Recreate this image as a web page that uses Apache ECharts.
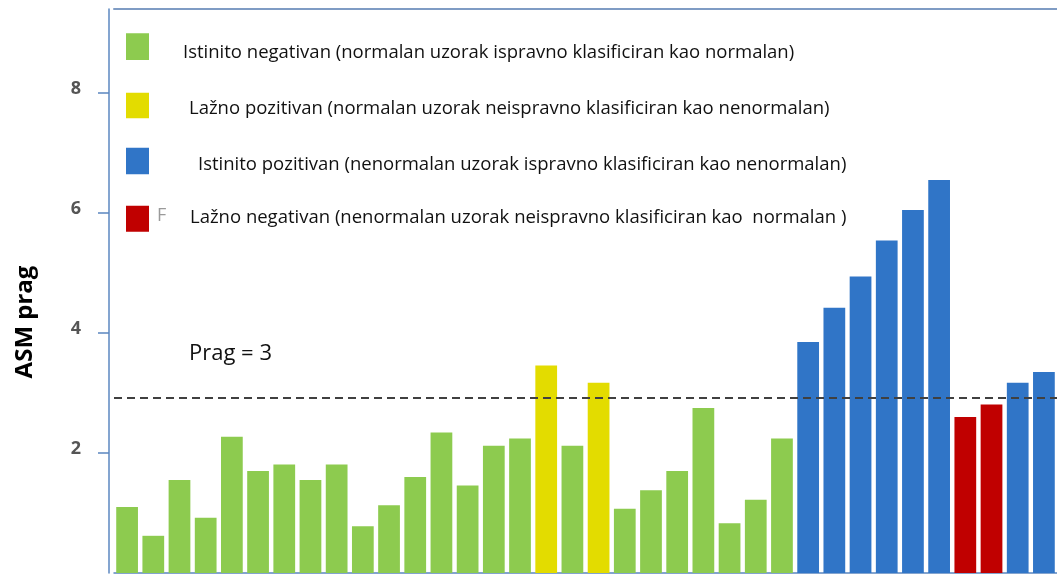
<!DOCTYPE html>
<html>
<head>
<meta charset="utf-8">
<script src="https://cdn.jsdelivr.net/npm/echarts@6/dist/echarts.min.js"></script>
<style>
html,body{margin:0;padding:0;background:#fff;}
#chart{width:1057px;height:576px;}
</style>
</head>
<body>
<div id="chart"></div>
<script>
// ---- data ----
const categories = ['1','2','3','4','5','6','7','8','9','10','11','12','13','14','15','16','17','18',
  '19','20','21','22','23','24','25','26','27','28','29','30','31','32','33','34','35','36'];
const values = [1.10,0.62,1.55,0.92,2.27,1.70,1.81,1.55,1.81,0.78,1.13,1.60,2.34,1.46,2.12,2.24,3.46,2.12,
  3.17,1.07,1.38,1.70,2.75,0.83,1.22,2.24,3.85,4.42,4.94,5.54,6.05,6.55,2.60,2.81,3.17,3.35];
const classes = ['TN','TN','TN','TN','TN','TN','TN','TN','TN','TN','TN','TN','TN','TN','TN','TN','FP','TN',
  'FP','TN','TN','TN','TN','TN','TN','TN','TP','TP','TP','TP','TP','TP','FN','FN','TP','TP'];
const classKeys = ['TN','FP','TP','FN'];
const classNames = [
  'Istinito negativan (normalan uzorak ispravno klasificiran kao normalan)',
  'Lažno pozitivan (normalan uzorak neispravno klasificiran kao nenormalan)',
  'Istinito pozitivan (nenormalan uzorak ispravno klasificiran kao nenormalan)',
  'Lažno negativan (nenormalan uzorak neispravno klasificiran kao  normalan )'
];
const yTicks = [2,4,6,8];
const threshold = 2.92;
const thresholdLabel = 'Prag = 3';
const yAxisTitle = 'ASM prag';

// ---- styles ----
const colors = ['#8dcb4f','#e3dc00','#3075c7','#c00000'];
// legend box: top, box height, square top offset, square height, text left padding
const legendTops = [33.3, 92.7, 147.7, 204.3];
const legendBoxH = [38.8, 32.6, 34.6, 27.4];
const legendSqOff = [0, 0, 0, 1.4];
const legendSqH = [26.7, 25.6, 26.6, 26];
const legendTextPadL = [29, 35, 44, 36];
const FONT = 'Open Sans';

function iconPath(i) {
  const t = legendSqOff[i], b = t + legendSqH[i], h = legendBoxH[i];
  return 'path://M0,' + t + 'L23,' + t + 'L23,' + b + 'L0,' + b + 'Z M0,0 L0.01,0 Z M0,' + h + ' L0.01,' + h + ' Z';
}

const series = classKeys.map((k, si) => ({
  name: classNames[si],
  type: 'bar',
  stack: 'all',
  barCategoryGap: '17%',
  itemStyle: { color: colors[si] },
  data: values.map((v, i) => classes[i] === k ? v : '-'),
  markLine: si === 0 ? {
    silent: true,
    symbol: 'none',
    label: { show: false },
    lineStyle: { type: [8,5], color: '#404040', width: 2 },
    data: [{ yAxis: threshold }]
  } : undefined
}));

const legends = classNames.map((n, i) => ({
  data: [n],
  left: 126,
  top: legendTops[i],
  padding: 0,
  itemWidth: 23,
  itemHeight: legendBoxH[i],
  icon: iconPath(i),
  symbolKeepAspect: false,
  selectedMode: false,
  textStyle: { fontFamily: FONT, fontSize: 18.5, color: '#111', padding: [0,0,0,legendTextPadL[i]] }
}));

const chart = echarts.init(document.getElementById('chart'), null, { renderer: 'canvas' });
chart.setOption({
  animation: false,
  backgroundColor: '#fff',
  grid: { left: 114, right: 0, top: 9, bottom: 3, containLabel: false },
  legend: legends,
  title: [
    { text: thresholdLabel, left: 189, top: 343, padding: 0,
      textStyle: { fontFamily: FONT, fontSize: 22, fontWeight: 'normal', color: '#111' } },
    { text: 'F', left: 157, top: 207, padding: 0,
      textStyle: { fontFamily: FONT, fontSize: 18, fontWeight: 'normal', color: '#9a9a9a' } }
  ],
  xAxis: [
    { type: 'category', data: categories, position: 'bottom',
      axisLine: { show: true, lineStyle: { color: '#5b87c0', width: 1.5 } },
      axisTick: { show: false }, axisLabel: { show: false }, splitLine: { show: false } },
    { type: 'category', data: categories, position: 'top',
      axisLine: { show: true, lineStyle: { color: '#7f9cc4', width: 2 } },
      axisTick: { show: false }, axisLabel: { show: false }, splitLine: { show: false } }
  ],
  yAxis: {
    type: 'value', min: 0, max: 9.4, interval: 2, offset: 5,
    name: yAxisTitle, nameLocation: 'middle', nameGap: 72,
    nameTextStyle: { fontFamily: FONT, fontSize: 24, fontWeight: 'bold', color: '#000', padding: [0,62,0,0] },
    axisLine: { show: true, lineStyle: { color: '#5b87c0', width: 1.5 } },
    axisTick: { show: true, length: 11, customValues: yTicks, lineStyle: { color: '#5b87c0', width: 1.5 } },
    axisLabel: { customValues: yTicks, margin: 28, fontFamily: FONT, fontSize: 18, fontWeight: 'bold',
      color: '#555555', verticalAlign: 'bottom', lineHeight: 8 },
    splitLine: { show: false }
  },
  series: series
});
</script>
</body>
</html>
